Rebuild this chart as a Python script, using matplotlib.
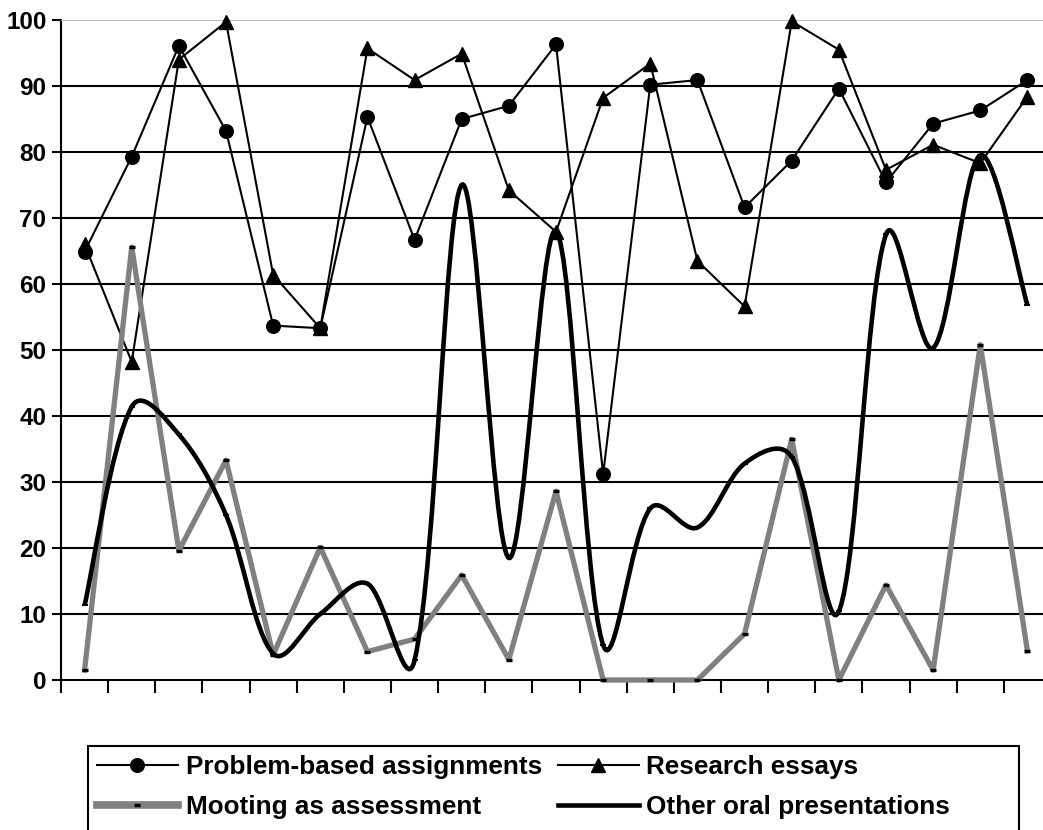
import numpy as np
import matplotlib.pyplot as plt
from matplotlib.path import Path
from matplotlib.patches import PathPatch, Rectangle
from matplotlib.lines import Line2D

plt.rcParams['font.family'] = ['Liberation Sans', 'DejaVu Sans']
plt.rcParams['font.weight'] = 'bold'

# scores per course (21 courses, no labels on the x axis)
problem_based = [64.9, 79.3, 96.1, 83.2, 53.7, 53.3, 85.3, 66.7, 85.0, 87.0, 96.3,
                 31.2, 90.2, 90.9, 71.6, 78.7, 89.6, 75.4, 84.3, 86.3, 90.9]
research_essays = [66.0, 48.2, 94.0, 99.7, 61.4, 53.3, 95.7, 90.9, 94.9, 74.2, 67.9,
                   88.2, 93.4, 63.5, 56.6, 99.8, 95.5, 77.3, 81.1, 78.3, 88.4]
mooting = [1.5, 65.6, 19.6, 33.3, 3.8, 20.1, 4.3, 6.2, 15.9, 3.1, 28.6,
           0.0, 0.0, 0.0, 7.0, 36.5, 0.0, 14.4, 1.5, 50.8, 4.4]
other_oral = [11.3, 41.4, 37.2, 25.0, 4.0, 10.0, 14.6, 3.0, 75.0, 18.5, 68.0,
              5.3, 26.0, 23.1, 32.8, 33.8, 10.4, 67.5, 50.3, 79.5, 56.8]

labels = ['Problem-based assignments', 'Research essays',
          'Mooting as assessment', 'Other oral presentations']

x = np.arange(len(problem_based))


def smooth_path(ax, xs, ys):
    # bezier "smoothed line" through every point; tangents are weighted by
    # the on-screen segment lengths so short segments overshoot less
    trans = ax.transData
    pts = trans.transform(np.column_stack([xs, ys]).astype(float))
    n = len(pts)
    seg = np.sqrt(np.hypot(*np.diff(pts, axis=0).T))
    verts = [pts[0]]
    codes = [Path.MOVETO]
    for i in range(n - 1):
        p0 = pts[max(i - 1, 0)]
        p1 = pts[i]
        p2 = pts[i + 1]
        p3 = pts[min(i + 2, n - 1)]
        d0 = seg[i - 1] if i > 0 else seg[i]
        d1 = seg[i]
        d2 = seg[i + 1] if i + 1 < n - 1 else seg[i]
        c1 = p1 + (p2 - p0) * d1 / (d0 + d1) / 3
        c2 = p2 - (p3 - p1) * d1 / (d1 + d2) / 3
        verts += [c1, c2, p2]
        codes += [Path.CURVE4] * 3
    verts = trans.inverted().transform(np.array(verts))
    return Path(verts, codes)


fig = plt.figure(figsize=(10.43, 8.30), dpi=100)
ax = fig.add_axes([61 / 1043, 150 / 830, 990 / 1043, 660 / 830])

ax.set_xlim(-0.5, len(x) - 0.5)
ax.set_ylim(0, 100)

for g in range(10, 100, 10):
    ax.axhline(g, color='black', lw=1.5, zorder=1)

ax.plot(x, problem_based, color='black', lw=1.5, marker='o', ms=9.8,
        zorder=3, clip_on=False)
ax.plot(x, research_essays, color='black', lw=1.5, marker='^', ms=10,
        zorder=4, clip_on=False)
ax.plot(x, mooting, color='#808080', lw=3.8, marker='_', ms=4.5, mew=2.4,
        mec='black', zorder=5, clip_on=False)
ax.add_patch(PathPatch(smooth_path(ax, x, other_oral), fill=False,
                       edgecolor='black', lw=3.3, zorder=6, clip_on=False))
ax.plot(x, other_oral, ls='none', marker='_', ms=4.5, mew=1.5, color='black',
        zorder=6, clip_on=False)

ax.set_yticks(range(0, 101, 10))
ax.set_xticks(np.arange(-0.5, len(x), 1))
ax.set_xticklabels([])
ax.tick_params(axis='y', length=6.5, width=1.5, pad=4, labelsize=17.5)
ax.tick_params(axis='x', length=9.5, width=1.5)
for t in ax.get_yticklabels():
    t.set_fontweight('bold')

ax.spines['right'].set_visible(False)
ax.spines['top'].set_color('#c0c0c0')
ax.spines['top'].set_linewidth(0.8)
ax.spines['left'].set_linewidth(1.5)
ax.spines['bottom'].set_linewidth(1.5)

# legend box runs past the bottom edge of the figure
fig.add_artist(Rectangle((88 / 1043, -0.05), (1019 - 88) / 1043, 0.05 + 84 / 830,
                         transform=fig.transFigure, fill=False,
                         edgecolor='black', lw=1.5))

handles = [
    Line2D([], [], color='black', lw=1.5, marker='o', ms=9.8),
    Line2D([], [], color='#808080', lw=5.5, marker='_', ms=4.5, mew=2.4, mec='black'),
    Line2D([], [], color='black', lw=1.5, marker='^', ms=10),
    Line2D([], [], color='black', lw=3.3),
]
fig.legend(handles, [labels[0], labels[2], labels[1], labels[3]],
           loc='upper left', ncol=2,
           bbox_to_anchor=(97 / 1043, 1 - 755 / 830),
           prop={'weight': 'bold', 'size': 18.8}, frameon=False,
           handlelength=3.1, handletextpad=0.3, labelspacing=0.6,
           borderpad=0, borderaxespad=0, columnspacing=0.6)

fig.savefig('out.png', dpi=100)
